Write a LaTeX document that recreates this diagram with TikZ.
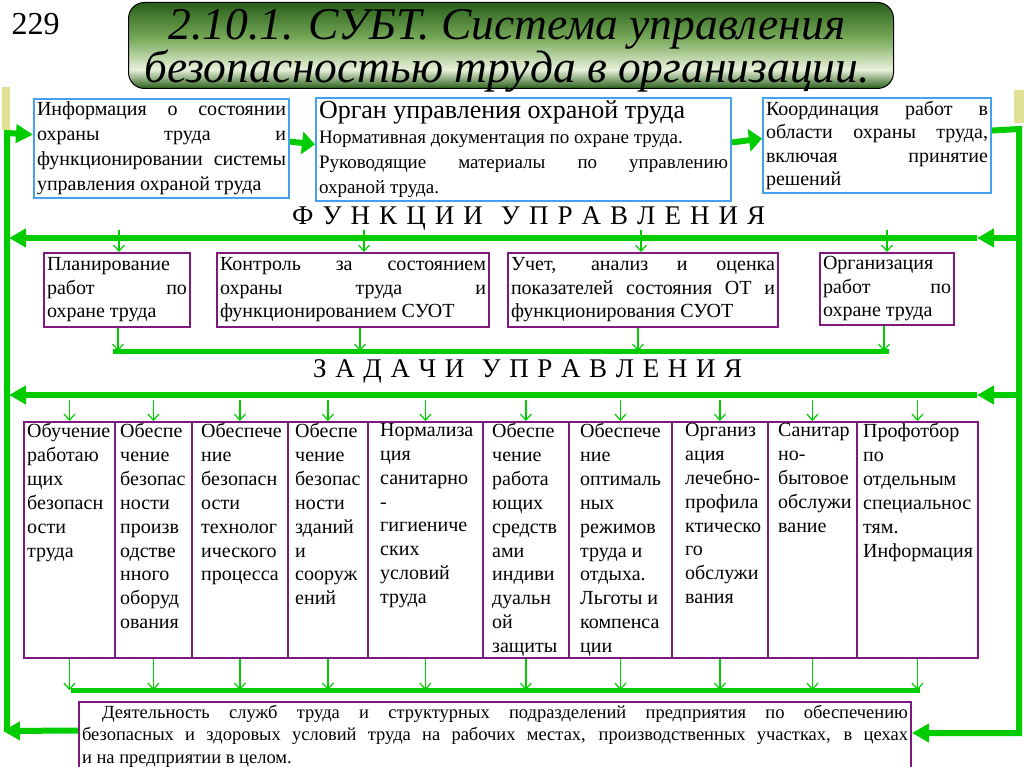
\documentclass[tikz,border=0pt]{standalone}
\usepackage{fontspec}
\setmainfont{Liberation Serif}
\usetikzlibrary{arrows.meta}
\hyphenpenalty=10000
\tolerance=10000
\newcommand{\fsz}[2]{\fontsize{#1}{#2}\selectfont}
\newcommand{\spaced}[2]{\makebox[#1pt][s]{#2}}

\definecolor{tgdark}{RGB}{40,95,25}
\definecolor{tgmid}{RGB}{120,170,90}
\definecolor{tglight}{RGB}{232,240,218}
\definecolor{flowgreen}{RGB}{0,204,0}
\definecolor{boxblue}{RGB}{70,160,240}
\definecolor{boxpurple}{RGB}{128,24,128}
\definecolor{markyellow}{RGB}{225,225,150}
\pgfdeclareverticalshading{titleshade}{100bp}{color(0bp)=(tgdark); color(25bp)=(tgdark); color(36bp)=(tglight); color(54bp)=(tgmid); color(75bp)=(tgdark); color(100bp)=(tgdark)}

\begin{document}
\begin{tikzpicture}[x=1pt, y=-1pt,
    infobox/.style={draw=boxblue, line width=2pt, anchor=north west, inner sep=3pt, align=justify, font=\fsz{20}{25}},
    funcbox/.style={draw=boxpurple, line width=2pt, anchor=north west, inner sep=3pt, align=justify, font=\fsz{20}{23.5}, minimum height=74pt},
    taskbox/.style={draw=boxpurple, line width=1.8pt, anchor=north west, inner sep=0pt, minimum height=236pt},
    tasktext/.style={anchor=north west, inner sep=2pt, align=left, font=\fsz{20}{23.9}},
    heading/.style={font=\fsz{27}{30}, inner sep=0pt, anchor=base west},
    bigline/.style={draw=flowgreen, line width=6pt},
    bigarrow/.style={bigline, -{Triangle[length=17pt,width=18pt]}},
    thinarrow/.style={draw=flowgreen, line width=1.2pt, -{Straight Barb[length=6pt,width=11pt]}}]
    \clip (0,0) rectangle (1024,767);

    % 标题
    \node[anchor=base west, font=\fsz{32}{32}] (num) at (8,35) {229};
    \node[draw=black, line width=1pt, rounded corners=16pt, shading=titleshade, anchor=north west,
          minimum width=765pt, minimum height=86pt, inner sep=0pt] (title) at (128,2) {};
    \node[align=center, font=\fsz{45.5}{41}\itshape, inner sep=0pt] (titletext) at ([xshift=-4pt,yshift=-5pt]title.center)
          {2.10.1. СУБТ. Система управления\\безопасностью труда в организации.};
    \fill[markyellow] (2,87) rectangle (10,130);
    \fill[markyellow] (1014,90) rectangle (1024,123);

    % 上排
    \node[infobox, text width=249pt, minimum height=97pt] (info) at (33,98)
          {Информация о состоянии\linebreak охраны труда и\linebreak функционировании системы\linebreak управления охраной труда};
    \node[infobox, text width=409pt, minimum height=95pt, font=\fsz{19}{25}] (organ) at (315,97)
          {{\fsz{26}{26}Орган управления охраной труда}\\Нормативная документация по охране труда.\\Руководящие материалы по управлению\linebreak охраной труда.};
    \node[infobox, text width=222pt, minimum height=95pt, font=\fsz{20}{23.5}] (coord) at (762,97)
          {Координация работ в\linebreak области охраны труда,\linebreak включая принятие\linebreak решений};
    \draw[bigline, -{Triangle[length=13pt,width=22pt]}] ([yshift=7pt]info.east) -- ([yshift=5pt]organ.west);
    \draw[bigline, -{Triangle[length=13pt,width=22pt]}] ([yshift=7pt]organ.east) -- ([yshift=7pt]coord.west);

    % 两侧回路
    \coordinate (lt) at (7,133);
    \coordinate (lb) at (7,731);
    \coordinate (rt) at (1019,129);
    \coordinate (rb) at (1019,733);

    % 功能
    \node[heading] (funchead) at (292,225) {\spaced{473}{Ф\hfill У\hfill Н\hfill К\hfill Ц\hfill И\hfill И\hfill\hfill У\hfill П\hfill Р\hfill А\hfill В\hfill Л\hfill Е\hfill Н\hfill И\hfill Я}};
    \coordinate (fr) at (1019,238);
    \coordinate (fm) at (977,238);
    \coordinate (fl) at (9,238);
    \draw[bigarrow] (fr) -- (fm);
    \draw[bigarrow] (fm) -- (fl);
    \node[funcbox, text width=140pt] (f1) at (43,252) {Планирование\linebreak работ по\linebreak охране труда};
    \node[funcbox, text width=266pt] (f2) at (216,252) {Контроль за состоянием\linebreak охраны труда и\linebreak функционированием СУОТ};
    \node[funcbox, text width=264pt] (f3) at (507,252) {Учет, анализ и оценка\linebreak показателей состояния ОТ и\linebreak функционирования СУОТ};
    \node[funcbox, text width=128pt, minimum height=72pt] (f4) at (819,252) {Организация\linebreak работ по\linebreak охране труда};
    \draw[thinarrow] ([xshift=2pt,yshift=22pt]f1.north) -- ([xshift=2pt]f1.north);
    \draw[thinarrow] ([xshift=11pt,yshift=22pt]f2.north) -- ([xshift=11pt]f2.north);
    \draw[thinarrow] ([xshift=-2pt,yshift=22pt]f3.north) -- ([xshift=-2pt]f3.north);
    \draw[thinarrow] ([yshift=22pt]f4.north) -- (f4.north);
    \coordinate (sl) at (113,351);
    \coordinate (sr) at (889,351);
    \draw[bigline, line width=5pt] (sl) -- (sr);
    \draw[thinarrow] ([xshift=1pt]f1.south) -- ([xshift=1pt]f1.south |- sl);
    \draw[thinarrow] ([xshift=7pt]f2.south) -- ([xshift=7pt]f2.south |- sl);
    \draw[thinarrow] ([xshift=-5pt]f3.south) -- ([xshift=-5pt]f3.south |- sl);
    \draw[thinarrow] ([xshift=-3pt]f4.south) -- ([xshift=-3pt]f4.south |- sl);

    % 任务
    \node[heading] (taskhead) at (313,377) {\spaced{429}{З\hfill А\hfill Д\hfill А\hfill Ч\hfill И\hfill\hfill У\hfill П\hfill Р\hfill А\hfill В\hfill Л\hfill Е\hfill Н\hfill И\hfill Я}};
    \coordinate (zr) at (1019,395);
    \coordinate (zm) at (977,395);
    \coordinate (zl) at (9,395);
    \draw[bigarrow] (zr) -- (zm);
    \draw[bigarrow] (zm) -- (zl);
    \foreach \n/\xa/\w/\p/\txt in {
        1/23/91/2/{Обучение\\работаю\\щих\\безопасн\\ости\\труда},
        2/114/77/4/{Обеспе\\чение\\безопас\\ности\\произв\\одстве\\нного\\оборуд\\ования},
        3/191/96/8/{Обеспече\\ние\\безопасн\\ости\\технолог\\ического\\процесса},
        4/287/80/6/{Обеспе\\чение\\безопас\\ности\\зданий\\и\\сооруж\\ений},
        5/367/115/11/{Нормализа\\ция\\санитарно\\-\\гигиениче\\ских\\условий\\труда},
        6/482/86/8/{Обеспе\\чение\\работа\\ющих\\средств\\ами\\индиви\\дуальн\\ой\\защиты},
        7/568/103/10/{Обеспече\\ние\\оптималь\\ных\\режимов\\труда и\\отдыха.\\Льготы и\\компенса\\ции},
        8/671/96/12/{Организ\\ация\\лечебно-\\профила\\ктическо\\го\\обслужи\\вания},
        9/767/89/9/{Санитар\\но-\\бытовое\\обслужи\\вание},
        10/856/121/5/{Профотбор\\по\\отдельным\\специальнос\\тям.\\Информация}} {
        \node[taskbox, minimum width=\w pt] (t\n) at (\xa,421) {};
        \node[tasktext] (tx\n) at ([xshift=\p pt]t\n.north west) {\txt};
    }
    \coordinate (dl) at (71,690);
    \coordinate (dr) at (920,690);
    \draw[bigline, line width=5pt] (dl) -- (dr);
    \foreach \c in {1,...,10} {
        \draw[thinarrow] ([yshift=21pt]t\c.north) -- (t\c.north);
        \draw[thinarrow] (t\c.south) -- (t\c.south |- dl);
    }

    % 底部
    \node[infobox, draw=boxpurple, text width=826pt, font=\fsz{18.5}{22.5}, text height=13pt, text depth=58pt] (work) at (78,701)
          {\hspace*{20pt}Деятельность служб труда и структурных подразделений предприятия по обеспечению\linebreak безопасных и здоровых условий труда на рабочих местах, производственных участках, в цехах\linebreak и на предприятии в целом.};
    \draw[bigarrow] ([yshift=10pt]work.west) -- (3,731);
    \draw[bigarrow] (lb) -- (lt) -- ([yshift=14pt]info.west);
    \draw[bigarrow] ([yshift=15pt]coord.east) -- (rt) -- (rb) -- (rb -| work.east);
\end{tikzpicture}
\end{document}
